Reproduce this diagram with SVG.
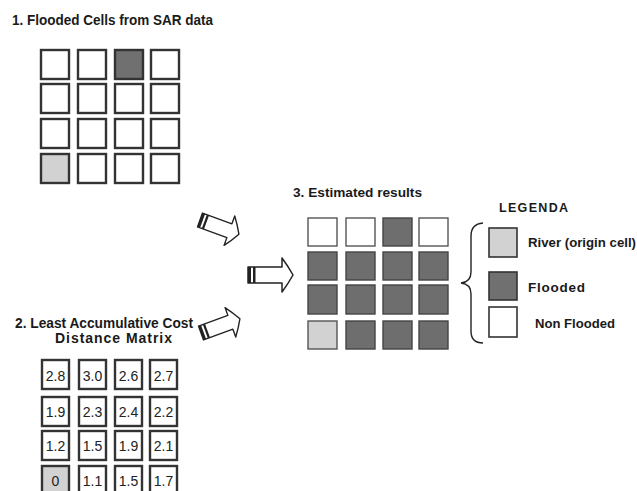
<svg xmlns="http://www.w3.org/2000/svg" width="637" height="491" viewBox="0 0 637 491">
<style>
.t{font-family:"Liberation Sans",Arial,sans-serif;font-weight:bold;fill:#1a1a1a}
.c1{fill:#fff;stroke:#333;stroke-width:2.4}
.c1.d{fill:#707070}
.c1.l{fill:#d2d2d2}
.c3{fill:#fff;stroke:#555;stroke-width:1.4}
.c3.d{fill:#6e6e6e;stroke:#444}
.c3.l{fill:#d2d2d2}
.n{font-family:"Liberation Sans Narrow","Liberation Sans",Arial,sans-serif;font-size:14px;fill:#222;text-anchor:middle}
.arrow{fill:#fff;stroke:#222;stroke-width:1.5;stroke-linejoin:round}
.stripe{fill:#222}
.brace{fill:none;stroke:#222;stroke-width:1.4}
</style>
<defs>
<g id="blk">
<path class="arrow" d="M0,-8 L34,-8 L34,-17 Q40,-9 45,0 Q40,9 34,17 L34,8 L0,8 Z"/>
<rect class="stripe" x="0" y="-8" width="3" height="16"/>
<rect class="stripe" x="5" y="-8" width="2.5" height="16"/>
</g>
</defs>
<rect width="637" height="491" fill="#fff"/>

<g id="title1"><text class="t" x="12" y="25" font-size="14" textLength="201" lengthAdjust="spacingAndGlyphs">1. Flooded Cells from SAR data</text></g>

<g id="grid1">
<rect class="c1" x="41" y="50" width="28" height="29"/>
<rect class="c1" x="78" y="50" width="28" height="29"/>
<rect class="c1 d" x="115" y="50" width="28" height="29"/>
<rect class="c1" x="151" y="50" width="28" height="29"/>
<rect class="c1" x="41" y="84" width="28" height="29"/>
<rect class="c1" x="78" y="84" width="28" height="29"/>
<rect class="c1" x="115" y="84" width="28" height="29"/>
<rect class="c1" x="151" y="84" width="28" height="29"/>
<rect class="c1" x="41" y="119" width="28" height="29"/>
<rect class="c1" x="78" y="119" width="28" height="29"/>
<rect class="c1" x="115" y="119" width="28" height="29"/>
<rect class="c1" x="151" y="119" width="28" height="29"/>
<rect class="c1 l" x="41" y="154" width="28" height="29"/>
<rect class="c1" x="78" y="154" width="28" height="29"/>
<rect class="c1" x="115" y="154" width="28" height="29"/>
<rect class="c1" x="151" y="154" width="28" height="29"/>
</g>

<g id="title2">
<text class="t" x="15" y="328" font-size="14" textLength="178" lengthAdjust="spacingAndGlyphs">2. Least Accumulative Cost</text>
<text class="t" x="55" y="343" font-size="14" textLength="117" lengthAdjust="spacing">Distance Matrix</text>
</g>

<g id="grid2">
<rect class="c1" x="42" y="360" width="27" height="29"/><text class="n" x="55.5" y="381">2.8</text>
<rect class="c1" x="79" y="360" width="27" height="29"/><text class="n" x="92.5" y="381">3.0</text>
<rect class="c1" x="115" y="360" width="27" height="29"/><text class="n" x="128.5" y="381">2.6</text>
<rect class="c1" x="150" y="360" width="27" height="29"/><text class="n" x="163.5" y="381">2.7</text>
<rect class="c1" x="42" y="397" width="27" height="29"/><text class="n" x="55.5" y="417">1.9</text>
<rect class="c1" x="79" y="397" width="27" height="29"/><text class="n" x="92.5" y="417">2.3</text>
<rect class="c1" x="115" y="397" width="27" height="29"/><text class="n" x="128.5" y="417">2.4</text>
<rect class="c1" x="150" y="397" width="27" height="29"/><text class="n" x="163.5" y="417">2.2</text>
<rect class="c1" x="42" y="431" width="27" height="29"/><text class="n" x="55.5" y="451">1.2</text>
<rect class="c1" x="79" y="431" width="27" height="29"/><text class="n" x="92.5" y="451">1.5</text>
<rect class="c1" x="115" y="431" width="27" height="29"/><text class="n" x="128.5" y="451">1.9</text>
<rect class="c1" x="150" y="431" width="27" height="29"/><text class="n" x="163.5" y="451">2.1</text>
<rect class="c1 l" x="42" y="466" width="27" height="29"/><text class="n" x="55.5" y="486">0</text>
<rect class="c1" x="79" y="466" width="27" height="29"/><text class="n" x="92.5" y="486">1.1</text>
<rect class="c1" x="115" y="466" width="27" height="29"/><text class="n" x="128.5" y="486">1.5</text>
<rect class="c1" x="150" y="466" width="27" height="29"/><text class="n" x="163.5" y="486">1.7</text>
</g>

<g id="connectors">
<use href="#blk" transform="translate(200,220) rotate(20) scale(0.92)"/>
<use href="#blk" transform="translate(248,275)"/>
<use href="#blk" transform="translate(201,333) rotate(-20) scale(0.92)"/>
</g>

<g id="title3"><text class="t" x="293" y="197" font-size="13.5" textLength="129" lengthAdjust="spacingAndGlyphs">3. Estimated results</text></g>

<g id="grid3">
<rect class="c3" x="308" y="218" width="29" height="28"/>
<rect class="c3" x="346" y="218" width="29" height="28"/>
<rect class="c3 d" x="383" y="218" width="29" height="28"/>
<rect class="c3" x="419" y="218" width="29" height="28"/>
<rect class="c3 d" x="308" y="252" width="29" height="28"/>
<rect class="c3 d" x="346" y="252" width="29" height="28"/>
<rect class="c3 d" x="383" y="252" width="29" height="28"/>
<rect class="c3 d" x="419" y="252" width="29" height="28"/>
<rect class="c3 d" x="308" y="285" width="29" height="29"/>
<rect class="c3 d" x="346" y="285" width="29" height="29"/>
<rect class="c3 d" x="383" y="285" width="29" height="29"/>
<rect class="c3 d" x="419" y="285" width="29" height="29"/>
<rect class="c3 l" x="308" y="321" width="29" height="28"/>
<rect class="c3 d" x="346" y="321" width="29" height="28"/>
<rect class="c3 d" x="383" y="321" width="29" height="28"/>
<rect class="c3 d" x="419" y="321" width="29" height="28"/>
</g>

<g id="legend">
<text class="t" x="499" y="212" font-size="12.5" textLength="69" lengthAdjust="spacing">LEGENDA</text>
<path class="brace" d="M483,223 Q471,224 471,236 L471,272 Q471,282 461,283 Q471,284 471,294 L471,331 Q471,343 483,343"/>
<rect class="c1 l" x="489" y="228" width="28" height="29" style="stroke-width:1.6"/>
<text class="t" x="528" y="247" font-size="13.5" textLength="108" lengthAdjust="spacingAndGlyphs">River (origin cell)</text>
<rect class="c1 d" x="489" y="272" width="28" height="28" style="stroke-width:1.6"/>
<text class="t" x="528" y="292" font-size="13.5" textLength="57" lengthAdjust="spacing">Flooded</text>
<rect class="c1" x="489" y="307" width="28" height="30" style="stroke-width:1.6"/>
<text class="t" x="535" y="328" font-size="13.5" textLength="80" lengthAdjust="spacingAndGlyphs">Non Flooded</text>
</g>
</svg>
